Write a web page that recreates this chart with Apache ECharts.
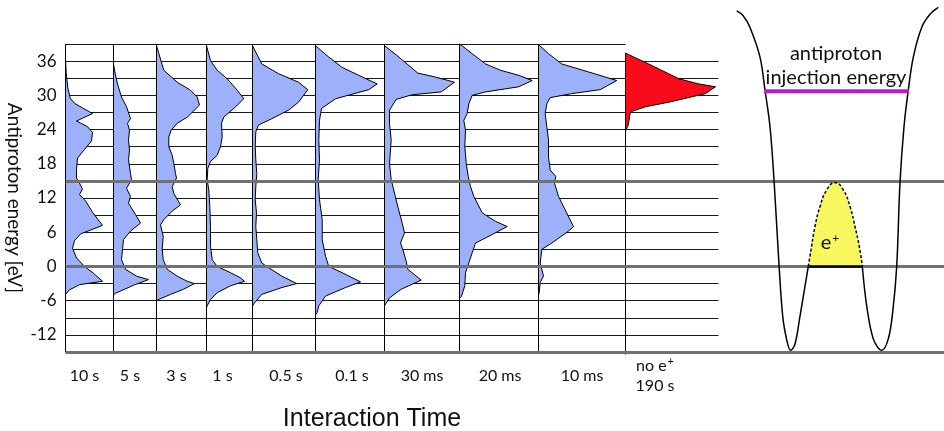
<!DOCTYPE html>
<html>
<head>
<meta charset="utf-8">
<script src="https://cdn.jsdelivr.net/npm/echarts@6/dist/echarts.min.js"></script>
<style>
  html, body { margin: 0; padding: 0; background: #fff; }
  #chart { width: 944px; height: 431px; }
</style>
</head>
<body>
<div id="chart"></div>
<script>
// Interaction time of each spectrum (column labels, left to right)
const timeLabels = ['10 s', '5 s', '3 s', '1 s', '0.5 s', '0.1 s', '30 ms', '20 ms', '10 ms', 'no e{sup|+}\n190 s'];
// Energy tick labels [eV]
const energyTicks = [36, 30, 24, 18, 12, 6, 0, -6, -12];

// Antiproton energy spectra, [counts (arb.), energy eV], top to bottom
const spec10s = [[0,39],[0,36.4],[0.7,34],[2.3,31.3],[4.7,29.5],[9,28.6],[17,27.8],[27,26.8],[11,25.5],[22,24.5],[27,23.5],[26,22],[19,20.5],[12,19],[11,17],[11,15.5],[14,14.6],[17,13.6],[14,12.6],[20,11.5],[27,9.5],[37,7.2],[15,5.7],[9,4.5],[7,3.2],[11,1.5],[19,0],[28,-1.2],[37,-2.6],[14,-3.2],[4,-4.1],[0,-4.9],[0,-15]];
const spec5s = [[0,39],[0,35.5],[1.7,33.8],[4,32],[8,29.7],[13,28],[17,25.9],[14,25.1],[16,23.9],[15,22.2],[16,20.4],[15,18.7],[17,16.3],[18,15.2],[13,13.7],[17,12.3],[15,11.1],[22,9.1],[27,7.6],[17,6.2],[10,4.7],[9,3],[8,1.2],[12,-0.5],[23,-1.7],[35,-2.3],[20,-3.3],[2,-4.7],[0,-5],[0,-15]];
const spec3s = [[0,39],[0,38.7],[7.3,34.4],[20.7,32.3],[34,30.9],[40.7,29.7],[43,28.3],[31,26.2],[20.7,25.1],[14.7,23.9],[12.3,22.7],[12.3,21],[15.7,19.5],[17.3,18.1],[19,16.3],[20,15.5],[15.7,14],[17.3,12.8],[24,10.8],[15.7,9.7],[7.3,8.2],[4,7.3],[6.7,5.3],[5.7,3],[6.7,1.2],[10.7,-0.5],[20.7,-1.7],[30.7,-2.6],[38,-3],[27,-4],[14,-4.9],[0.7,-5.9],[0,-6],[0,-15]];
const spec1s = [[0,39],[0,38.7],[4,36.1],[10.7,34.4],[20.7,32.9],[30.7,30.9],[37.3,29.4],[27.3,27.7],[17.3,26.2],[15,25.1],[15.7,22.7],[14,21],[10.7,19.5],[4,18.4],[1.3,17.2],[0.7,15.2],[2.3,13.4],[3.3,10.5],[4,7],[4,3.5],[5.7,1.2],[10.7,0],[24,-1.1],[34,-2],[38,-2.6],[24,-3.4],[10.7,-4.6],[4,-5.8],[0.7,-6.9],[0,-7.2],[0,-15]];
const spec500ms = [[0,39],[0,38.7],[9.3,35.5],[26,33.8],[46,32.3],[55.3,31],[46,28.8],[36,27.4],[19.3,25.9],[6,24.8],[3.3,23.6],[2.7,21],[3.3,18.7],[4.3,16.3],[3.3,14],[2.7,11.7],[4,9.4],[3.3,7],[4.3,4.7],[5.3,2.4],[9.3,0.6],[16,-0.2],[29.3,-1.7],[44.3,-3],[29.3,-3.7],[9.3,-4.9],[1,-6.6],[0,-7],[0,-15]];
const spec100ms = [[0,39],[0,38.7],[13.3,36.7],[26.7,34.9],[43.3,33.5],[61.7,32],[53.3,31],[20,29.4],[6,27.7],[4,25.6],[3.3,22.2],[4,18.7],[2.7,15.2],[4,11.7],[6.7,8.2],[6.7,4.7],[10,1.8],[13.3,0],[26.7,-1.1],[45,-2.7],[30,-3.7],[10,-5.2],[3.3,-6.9],[1.7,-8.1],[0,-8.5],[0,-15]];
const spec30ms = [[0,39],[0,38.7],[11.7,37.1],[33.3,33.9],[51,33.2],[70,32.3],[56.7,30.6],[27.7,30.1],[11.7,29.3],[5,27.4],[5,25],[6.7,22.2],[5,18],[6.7,15.2],[13.3,10.5],[17.7,7.6],[20,5.9],[16,4.1],[18.3,3],[21.7,0.9],[23.3,-0.5],[36.7,-2.4],[16.7,-4],[5,-5.5],[0,-6.9],[0,-15]];
const spec20ms = [[0,39],[1,38.9],[12.7,37.3],[26,35.5],[41,34.4],[59.3,33.5],[72.7,32.6],[59.3,31.5],[26,30.6],[12.7,30],[9.3,28.5],[7.7,26.8],[4.3,25.6],[6,23.9],[5.3,21],[6.7,18.1],[8.7,15.8],[11,14],[14.3,12.3],[22.7,9.4],[36,7.9],[47.7,7],[32.7,5.6],[16,4.1],[12.7,2.4],[9.3,0.6],[6,-1.1],[5.3,-3.4],[2,-5.2],[0,-5.6],[0,-15]];
const spec10ms = [[0,39],[0,38.9],[10,37.3],[23.3,35.5],[50,34.1],[78.3,32.6],[61.7,31],[33.3,30.3],[11.7,29.6],[8.3,28.5],[6.7,26.8],[8.3,24.5],[10,22.2],[10,19.2],[11.7,16.9],[17.3,15.8],[16,14.6],[20,12.3],[26.7,9.9],[35,7],[30,6.2],[13.3,4.1],[3.3,3],[1.7,0.6],[5,-1.7],[1.7,-2.8],[0.7,-4.6],[0,-5],[0,-15]];
const specNoPositrons = [[0,37.4],[26.7,35.2],[53.3,32.9],[73.3,32],[90,31.5],[80,30.3],[43.3,28.8],[20,28],[5,27.1],[4.3,26.5],[2.7,24.8],[0.7,24],[0,23.7],[0,-15.4]];

const spectra = [spec10s, spec5s, spec3s, spec1s, spec500ms, spec100ms, spec30ms, spec20ms, spec10ms, specNoPositrons];

// Trap potential on axis, [position (arb.), energy eV]; gap where the positron cloud sits
const wellLeft = [[-9.93,44.8],[-9.3,44.0],[-8.6,41.9],[-7.6,36.7],[-7.1,30.9],[-6.6,24.5],[-6.2,15.2],[-5.77,2.4],[-5.33,-8.7],[-4.87,-13.3],[-4.53,-14.7],[-4.1,-13.6],[-3.6,-8.7],[-2.77,0]];
const wellRight = [[2.63,0],[3.07,-6.9],[3.73,-12.7],[4.57,-14.7],[5.23,-12.7],[5.67,-8.0],[6.07,0],[6.4,14.7],[6.8,24.5],[7.23,30.9],[7.73,36.7],[8.57,41.9],[9.4,44.2],[10.23,45.4]];
// Positron space-charge hump
const positronCloud = [[-2.77,0],[-2.6,1.8],[-2.1,7.0],[-1.6,10.5],[-0.93,13.4],[-0.1,14.7],[0.73,13.4],[1.4,10.5],[1.9,7.0],[2.33,3.5],[2.63,0]];
// Antiproton injection energy level
const injectionLevel = [[-7.2,30.7],[7.3,30.7]];
// Reference energy levels drawn across the whole figure
const guideLevels = [15, 0, -15];

const FONT = 'Lato, "Open Sans", sans-serif';
const BLUE = '#9db0fa';
const RED = '#f80c1c';

// Column layout: left edge of each spectrum panel, last entry = right end
const colEdges = [65.5, 113.5, 156.5, 206.5, 252.5, 315.5, 384.5, 459.5, 538.5, 625.5, 718.5];
// Horizontal nudge of each column caption (px, negative = left)
const captionNudge = [-5, -5, -5, -7, 2, 2, 0, 1, 0, -17];
const TOP = 44, BOTTOM = 79;

const grids = [], xAxes = [], yAxes = [], series = [];

spectra.forEach(function (pts, i) {
  const left = colEdges[i], width = colEdges[i + 1] - colEdges[i];
  const n = captionNudge[i];
  grids.push({ left: left, top: TOP, width: width, bottom: BOTTOM });
  xAxes.push({
    gridIndex: i, type: 'value', min: 0, max: width,
    axisLine: { show: false }, axisTick: { show: false }, axisLabel: { show: false }, splitLine: { show: false },
    name: timeLabels[i], nameLocation: 'middle', nameGap: 24,
    nameTextStyle: {
      fontFamily: FONT, fontSize: 16, color: '#111', verticalAlign: 'middle', lineHeight: 20,
      padding: n < 0 ? [0, -2 * n, 0, 0] : [0, 0, 0, 2 * n],
      rich: { sup: { fontFamily: FONT, fontSize: 11, verticalAlign: 'top', lineHeight: 20, padding: [0, 0, 6, 1] } }
    }
  });
  yAxes.push({
    gridIndex: i, type: 'value', min: -15, max: 39, interval: 3,
    axisLine: { show: false }, axisTick: { show: false },
    axisLabel: i === 0 ? {
      show: true, fontFamily: FONT, fontSize: 17, color: '#111', margin: 9,
      formatter: function (v) { return energyTicks.indexOf(v) >= 0 ? String(v) : ''; }
    } : { show: false },
    splitLine: { show: true, showMaxLine: i < 9, lineStyle: { color: '#1a1a1a', width: 1 } },
    name: i === 0 ? 'Antiproton energy [eV]' : '',
    nameLocation: 'middle', nameRotate: -90, nameGap: 42,
    nameTextStyle: { fontFamily: FONT, fontSize: 19, color: '#111' }
  });
  series.push({
    type: 'custom', xAxisIndex: i, yAxisIndex: i, silent: true, z: 3,
    data: [[0, 0]],
    renderItem: function (params, api) {
      return {
        type: 'polygon',
        shape: { points: pts.map(function (p) { return api.coord(p); }) },
        style: { fill: i === 9 ? RED : BLUE, stroke: '#000', lineWidth: 1 }
      };
    }
  });
});

// Full-width frame carrying the thick guide levels
const FRAME = spectra.length;
grids.push({ left: 65.5, right: 0, top: TOP, bottom: BOTTOM });
xAxes.push({ gridIndex: FRAME, type: 'value', min: 0, max: 1, show: false });
yAxes.push({ gridIndex: FRAME, type: 'value', min: -15, max: 39, show: false });
series.push({
  type: 'line', xAxisIndex: FRAME, yAxisIndex: FRAME, data: [], z: 6, silent: true,
  markLine: {
    silent: true, symbol: 'none', label: { show: false }, animation: false,
    lineStyle: { color: '#717171', width: 3, type: 'solid' },
    data: guideLevels.map(function (e) { return { yAxis: e }; })
  }
});

// Trap potential panel
const WELL = FRAME + 1;
grids.push({ left: 718, right: 0, top: TOP, bottom: BOTTOM });
xAxes.push({ gridIndex: WELL, type: 'value', min: -11.8, max: 10.8, show: false });
yAxes.push({ gridIndex: WELL, type: 'value', min: -15, max: 39, show: false });
series.push({
  type: 'line', xAxisIndex: WELL, yAxisIndex: WELL, z: 8, silent: true, clip: false,
  data: wellLeft.concat([[null, null]], wellRight), connectNulls: false,
  smooth: 0.35, showSymbol: false, lineStyle: { color: '#000', width: 1.5 }
});
series.push({
  type: 'line', xAxisIndex: WELL, yAxisIndex: WELL, z: 5, silent: true,
  data: positronCloud, smooth: 0.5, showSymbol: false,
  lineStyle: { color: '#000', width: 1.5, type: [3, 2] },
  areaStyle: { color: '#f7f75f', opacity: 1 },
  markPoint: {
    silent: true, symbol: 'circle', symbolSize: 0, animation: false,
    data: [{ coord: [-0.6, 4.2] }],
    label: {
      show: true, position: 'inside', formatter: 'e{sup|+}',
      fontFamily: FONT, fontSize: 20, color: '#111',
      rich: { sup: { fontFamily: FONT, fontSize: 12, verticalAlign: 'top', padding: [0, 0, 9, 1] } }
    }
  }
});
series.push({
  type: 'line', xAxisIndex: WELL, yAxisIndex: WELL, z: 9, silent: true,
  data: [positronCloud[0], positronCloud[positronCloud.length - 1]],
  showSymbol: false, lineStyle: { color: '#000', width: 2.5 }
});
series.push({
  type: 'line', xAxisIndex: WELL, yAxisIndex: WELL, z: 9, silent: true,
  data: injectionLevel, showSymbol: false, lineStyle: { color: '#b51fc0', width: 4 },
  markPoint: {
    silent: true, symbol: 'circle', symbolSize: 0, animation: false,
    data: [{ coord: [0, 30.7] }],
    label: {
      show: true, position: 'top', distance: 2, formatter: 'antiproton\ninjection energy',
      fontFamily: FONT, fontSize: 20, lineHeight: 24, color: '#111', align: 'center'
    }
  }
});

const chart = echarts.init(document.getElementById('chart'), null, { renderer: 'canvas' });
chart.setOption({
  animation: false,
  backgroundColor: '#fff',
  title: {
    text: 'Interaction Time', left: 367, top: 402, textAlign: 'center',
    textStyle: { fontFamily: '"Liberation Sans", Arial, sans-serif', fontSize: 25, fontWeight: 'normal', color: '#111' }
  },
  grid: grids, xAxis: xAxes, yAxis: yAxes, series: series
});
</script>
</body>
</html>
